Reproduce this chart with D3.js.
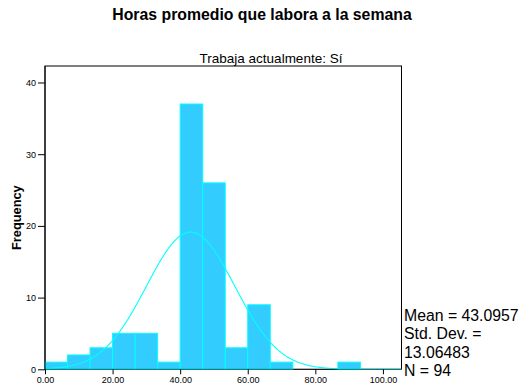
<!DOCTYPE html>
<html><head><meta charset="utf-8">
<script src="https://cdn.jsdelivr.net/npm/d3@7"></script>
<style>
html,body{margin:0;padding:0;background:#fff;}
svg{display:block;font-family:Arial,"Liberation Sans",sans-serif;}
</style></head>
<body>
<svg id="chart" width="522" height="391"></svg>
<script>
const title = "Horas promedio que labora a la semana";
const subtitle = "Trabaja actualmente: Sí";
const yLabel = "Frequency";
const binLower = [0, 6.6667, 13.3333, 20, 26.6667, 33.3333, 40, 46.6667, 53.3333, 60, 66.6667, 73.3333, 80, 86.6667, 93.3333];
const binWidth = 6.6667;
const counts = [1, 2, 3, 5, 5, 1, 37, 26, 3, 9, 1, 0, 0, 1, 0];
const xTicks = [0, 20, 40, 60, 80, 100];
const yTicks = [0, 10, 20, 30, 40];
const statLines = ["Mean = 43.0957", "Std. Dev. =", "13.06483", "N = 94"];
const mean = 43.0957, sd = 13.06483, nObs = 94;

const svg = d3.select("#chart");
const x = d3.scaleLinear().domain([0, 105.5]).range([45, 401.5]);
const y = d3.scaleLinear().domain([0, 42.3]).range([369.3, 66]);

// frame
svg.append("rect").attr("x", x(0)).attr("y", y(42.3))
  .attr("width", x(105.5) - x(0)).attr("height", y(0) - y(42.3))
  .attr("fill", "none").attr("stroke", "#000").attr("stroke-width", 1);

// bars
svg.append("g").selectAll("rect").data(binLower).join("rect")
  .attr("x", d => x(d))
  .attr("y", (d, i) => y(counts[i]))
  .attr("width", x(binWidth) - x(0))
  .attr("height", (d, i) => y(0) - y(counts[i]))
  .attr("fill", "#33ccff").attr("stroke", "#00ffff").attr("stroke-width", 1);

// normal curve
const pts = d3.range(0, 105.5 + 0.01, 0.25).map(v => [v,
  nObs * binWidth * Math.exp(-0.5 * ((v - mean) / sd) ** 2) / (sd * Math.sqrt(2 * Math.PI))]);
svg.append("path").datum(pts)
  .attr("d", d3.line().x(d => x(d[0])).y(d => y(d[1])).curve(d3.curveBasis))
  .attr("fill", "none").attr("stroke", "#00ffff").attr("stroke-width", 1.1);

// axes
const xAxis = svg.append("g").attr("transform", `translate(0,${y(0)})`)
  .call(d3.axisBottom(x).tickValues(xTicks).tickFormat(d3.format(".2f")).tickSize(5).tickPadding(2));
const yAxis = svg.append("g").attr("transform", `translate(${x(0)},0)`)
  .call(d3.axisLeft(y).tickValues(yTicks).tickFormat(d3.format("d")).tickSize(7).tickPadding(2));
[xAxis, yAxis].forEach(a => {
  a.select(".domain").remove();
  a.selectAll("text").attr("font-size", 9).attr("font-family", "Arial,'Liberation Sans',sans-serif").attr("fill", "#000");
  a.selectAll("line").attr("stroke", "#000");
});
svg.append("line").attr("x1", x(0)).attr("x2", x(0)).attr("y1", y(42.3)).attr("y2", y(0)).attr("stroke", "#000");
svg.append("line").attr("x1", x(0)).attr("x2", x(105.5)).attr("y1", y(0)).attr("y2", y(0)).attr("stroke", "#000").attr("stroke-opacity", 0.5);

// titles
svg.append("text").attr("x", 262).attr("y", 20).attr("text-anchor", "middle")
  .attr("font-weight", "bold").attr("font-size", 15.8).text(title);
svg.append("text").attr("x", 271).attr("y", 62.5).attr("text-anchor", "middle")
  .attr("font-size", 13.5).text(subtitle);
svg.append("text").attr("transform", `translate(20.5,${(y(0) + y(42.3)) / 2}) rotate(-90)`)
  .attr("text-anchor", "middle").attr("font-weight", "bold").attr("font-size", 12.8).text(yLabel);

// stats
svg.append("g").selectAll("text").data(statLines).join("text")
  .attr("x", 404).attr("y", (d, i) => 321 + i * 18.3)
  .attr("font-size", 15.8).text(d => d);
</script>
</body></html>
